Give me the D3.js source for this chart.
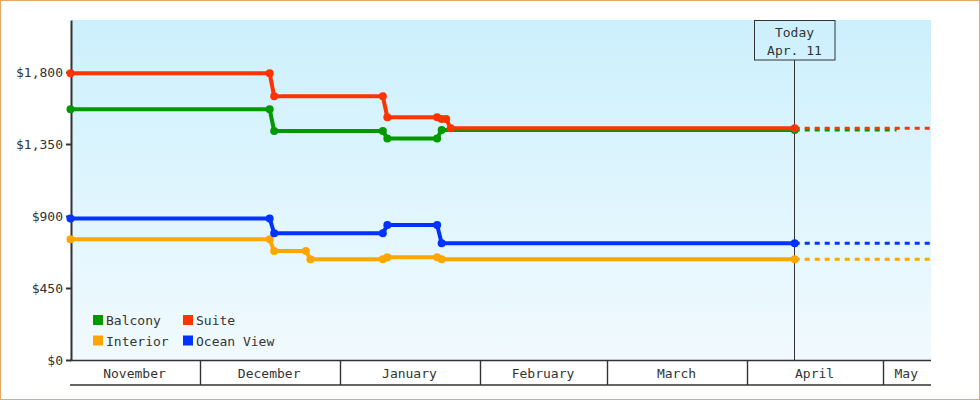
<!DOCTYPE html>
<html>
<head>
<meta charset="utf-8">
<script src="https://cdn.jsdelivr.net/npm/d3@7"></script>
<style>
  html, body { margin: 0; padding: 0; background: #fff; }
  svg { display: block; }
  text { font-family: "DejaVu Sans Mono", monospace; font-size: 13px; fill: #333; }
</style>
</head>
<body>
<svg id="chart" width="980" height="400"></svg>
<script>
// ---------- data ----------
const domainStart = "2018-11-02T12:00";
const domainEnd = "2019-05-11T12:00";
const today = "2019-04-11T12:00";
const todayLabel = ["Today", "Apr. 11"];

const monthLabels = ["November", "December", "January", "February", "March", "April", "May"];
const yTicks = [0, 450, 900, 1350, 1800];
const yMax = 2125;

const seriesNames = ["Balcony", "Interior", "Ocean View", "Suite"];
const seriesColors = ["#009900", "#ffa500", "#0033ff", "#ff3300"];

const balconyDates = ["2018-11-02T12:00", "2018-12-16T12:00", "2018-12-17T12:00", "2019-01-10T12:00", "2019-01-11T12:00", "2019-01-22T12:00", "2019-01-23T12:00", "2019-04-11T12:00"];
const balconyPrices = [1567, 1567, 1431, 1431, 1385, 1385, 1437, 1437];

const suiteDates = ["2018-11-02T12:00", "2018-12-16T12:00", "2018-12-17T12:00", "2019-01-10T12:00", "2019-01-11T12:00", "2019-01-22T12:00", "2019-01-23T12:00", "2019-01-24T12:00", "2019-01-25T12:00", "2019-04-11T12:00"];
const suitePrices = [1792, 1792, 1648, 1648, 1517, 1517, 1506, 1506, 1448, 1448];

const oceanDates = ["2018-11-02T12:00", "2018-12-16T12:00", "2018-12-17T12:00", "2019-01-10T12:00", "2019-01-11T12:00", "2019-01-22T12:00", "2019-01-23T12:00", "2019-04-11T12:00"];
const oceanPrices = [885, 885, 792, 792, 844, 844, 729, 729];

const interiorDates = ["2018-11-02T12:00", "2018-12-16T12:00", "2018-12-17T12:00", "2018-12-24T12:00", "2018-12-25T12:00", "2019-01-10T12:00", "2019-01-11T12:00", "2019-01-22T12:00", "2019-01-23T12:00", "2019-04-11T12:00"];
const interiorPrices = [754, 754, 681, 681, 629, 629, 642, 642, 629, 629];

// projection (dashed) end dates, per series in seriesNames order
const projectionEnds = ["2019-05-04T00:00", "2019-05-11T12:00", "2019-05-11T12:00", "2019-05-11T12:00"];

// ---------- build ----------
const parse = s => new Date(s);
const seriesDates = [balconyDates, interiorDates, oceanDates, suiteDates];
const seriesPrices = [balconyPrices, interiorPrices, oceanPrices, suitePrices];
const series = seriesNames.map((name, i) => ({
  name, color: seriesColors[i],
  points: seriesDates[i].map((d, j) => ({ date: parse(d), price: seriesPrices[i][j] })),
  projEnd: parse(projectionEnds[i])
}));

const svg = d3.select("#chart");
const W = 980, H = 400;
const plot = { left: 70.5, right: 930.5, top: 20, bottom: 360 };

const x = d3.scaleTime().domain([parse(domainStart), parse(domainEnd)]).range([plot.left, plot.right]);
const y = d3.scaleLinear().domain([0, yMax]).range([plot.bottom, plot.top]);

// outer border
svg.append("rect").attr("x", 0.5).attr("y", 0.5).attr("width", W - 1).attr("height", H - 1)
  .attr("fill", "#fff").attr("stroke", "#e8a964").attr("stroke-width", 1);

// background gradient
const defs = svg.append("defs");
const grad = defs.append("linearGradient").attr("id", "bg").attr("x1", 0).attr("y1", 0).attr("x2", 0).attr("y2", 1);
grad.append("stop").attr("offset", "0%").attr("stop-color", "#ccf0fd");
grad.append("stop").attr("offset", "100%").attr("stop-color", "#f1fafe");
svg.append("rect").attr("x", 72).attr("y", plot.top).attr("width", plot.right - 72 + 0.5)
  .attr("height", plot.bottom - plot.top).attr("fill", "url(#bg)");

// month band
const xStart = x.domain()[0], xEnd = x.domain()[1];
const monthStarts = d3.timeMonth.range(d3.timeMonth.ceil(xStart), xEnd);
const bounds = [xStart, ...monthStarts, xEnd];
const band = svg.append("g");
band.append("line").attr("x1", 70).attr("x2", plot.right + 0.5).attr("y1", 385).attr("y2", 385)
  .attr("stroke", "#333").attr("stroke-width", 1.5);
band.selectAll("line.sep").data(monthStarts).join("line").attr("class", "sep")
  .attr("x1", d => Math.round(x(d)) + 0.5).attr("x2", d => Math.round(x(d)) + 0.5)
  .attr("y1", plot.bottom).attr("y2", 385).attr("stroke", "#333").attr("stroke-width", 1.4);
band.selectAll("text").data(monthLabels).join("text")
  .attr("x", (d, i) => (x(bounds[i]) + x(bounds[i + 1])) / 2 - 0.5)
  .attr("y", 378).attr("text-anchor", "middle").text(d => d);
band.append("line").attr("x1", 70).attr("x2", plot.right + 0.5).attr("y1", 360.5).attr("y2", 360.5)
  .attr("stroke", "#333").attr("stroke-width", 1.6);

// today line & box
const tx = Math.floor(x(parse(today))) + 0.5;
svg.append("line").attr("x1", tx).attr("x2", tx).attr("y1", 60).attr("y2", plot.bottom)
  .attr("stroke", "#333").attr("stroke-width", 1);
svg.append("rect").attr("x", tx - 40).attr("y", 20.5).attr("width", 80.5).attr("height", 39.5)
  .attr("fill", "none").attr("stroke", "#333").attr("stroke-width", 1);
svg.append("text").attr("x", tx).attr("y", 37).attr("text-anchor", "middle").text(todayLabel[0]);
svg.append("text").attr("x", tx).attr("y", 55).attr("text-anchor", "middle").text(todayLabel[1]);

// y axis
const yAxis = d3.axisLeft(y).tickValues(yTicks).tickSize(5).tickSizeOuter(0).tickPadding(3)
  .tickFormat(d => "$" + d3.format(",")(d));
const gy = svg.append("g").attr("transform", "translate(71,0)").call(yAxis);
gy.select(".domain").attr("stroke", "#333").attr("stroke-width", 2);
gy.selectAll(".tick line").attr("stroke", "#333").attr("stroke-width", 2);
gy.selectAll(".tick text").attr("font-family", "DejaVu Sans Mono").attr("font-size", 13).attr("fill", "#333");

// series
const line = d3.line().x(d => x(d.date)).y(d => y(d.price));
const drawOrder = [0, 1, 2, 3];
drawOrder.forEach(i => {
  const s = series[i];
  const last = s.points[s.points.length - 1];
  svg.append("path").datum([last, { date: s.projEnd, price: last.price }])
    .attr("d", line).attr("fill", "none").attr("stroke", s.color).attr("stroke-width", 3)
    .attr("stroke-dasharray", "5,5");
});
drawOrder.forEach(i => {
  const s = series[i];
  svg.append("path").datum(s.points).attr("d", line).attr("fill", "none")
    .attr("stroke", s.color).attr("stroke-width", 4).attr("stroke-linejoin", "round");
  svg.append("g").selectAll("circle").data(s.points).join("circle")
    .attr("cx", d => x(d.date)).attr("cy", d => y(d.price)).attr("r", 4).attr("fill", s.color);
});

// legend
const legendOrder = ["Balcony", "Suite", "Interior", "Ocean View"];
const lg = svg.append("g");
legendOrder.forEach((name, k) => {
  const s = series.find(v => v.name === name);
  const col = k % 2, row = Math.floor(k / 2);
  const lx = 93 + col * 90, ly = 315 + row * 20.5;
  lg.append("rect").attr("x", lx).attr("y", ly).attr("width", 10).attr("height", 10).attr("fill", s.color);
  lg.append("text").attr("x", lx + 13).attr("y", ly + 10).text(name);
});
</script>
</body>
</html>
